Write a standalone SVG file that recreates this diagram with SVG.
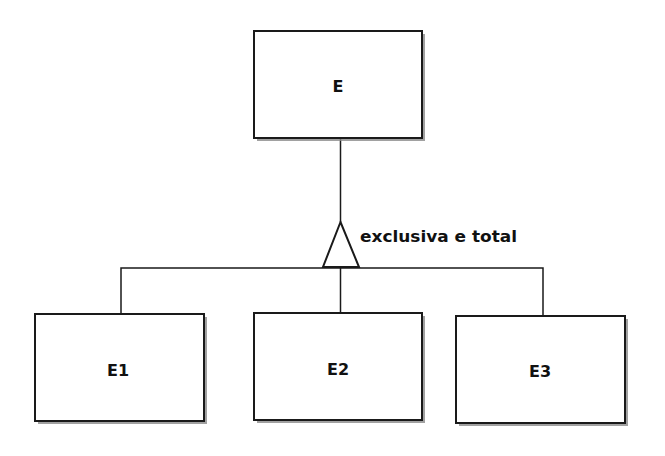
<svg xmlns="http://www.w3.org/2000/svg" width="665" height="456" viewBox="0 0 665 456">
<style>
.box{fill:#fff;stroke:#1a1a1a;stroke-width:2}
.sh{fill:#8a8a8a;opacity:0.8}
.lbl{font-family:"DejaVu Sans",Verdana,sans-serif;font-weight:bold;font-size:16px;fill:#111;text-anchor:middle}
.con{fill:none;stroke:#1a1a1a;stroke-width:1.5}
</style>
<rect width="665" height="456" fill="#fff"/>
<g id="connectors">
<line class="con" x1="340.5" y1="138" x2="340.5" y2="222"/>
<polygon points="340.5,222 323,267 359,267" fill="#fff" stroke="#1a1a1a" stroke-width="2"/>
<polyline class="con" points="121,314 121,268 543,268 543,316"/>
<line class="con" x1="340.5" y1="268" x2="340.5" y2="313"/>
<text x="360" y="242" font-family="DejaVu Sans, Verdana, sans-serif" font-weight="bold" font-size="16.5" fill="#111" textLength="157" lengthAdjust="spacingAndGlyphs">exclusiva e total</text>
</g>
<g id="E">
<rect class="sh" x="257" y="34" width="168" height="107"/>
<rect class="box" x="254" y="31" width="168" height="107"/>
<text class="lbl" x="338" y="92">E</text>
</g>
<g id="E1">
<rect class="sh" x="38" y="317" width="169" height="107"/>
<rect class="box" x="35" y="314" width="169" height="107"/>
<text class="lbl" x="118" y="376">E1</text>
</g>
<g id="E2">
<rect class="sh" x="257" y="316" width="168" height="107"/>
<rect class="box" x="254" y="313" width="168" height="107"/>
<text class="lbl" x="338" y="375">E2</text>
</g>
<g id="E3">
<rect class="sh" x="459" y="319" width="169" height="107"/>
<rect class="box" x="456" y="316" width="169" height="107"/>
<text class="lbl" x="540" y="377">E3</text>
</g>
</svg>
